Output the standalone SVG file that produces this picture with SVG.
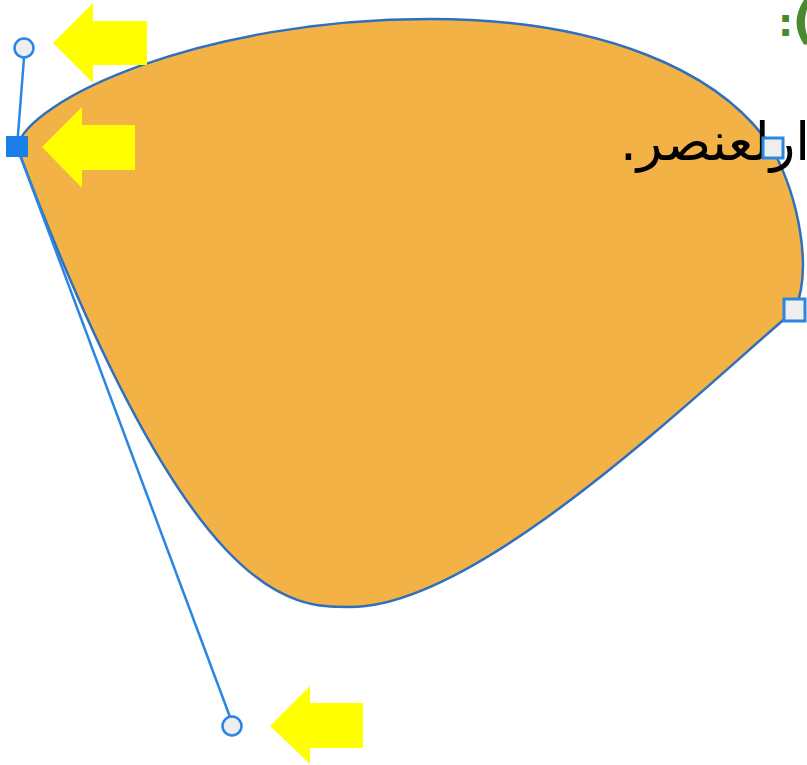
<svg xmlns="http://www.w3.org/2000/svg" width="807" height="765" viewBox="0 0 807 765">
<style>
.handle{fill:none;stroke:#2a86e0;stroke-width:2.5}
.knob{fill:#eeeeee;stroke:#2a86e0;stroke-width:2.5}
.node{fill:#eeeeee;stroke:#2a86e0;stroke-width:3}
.arrow{fill:#ffff00}
</style>
<rect width="807" height="765" fill="#ffffff"/>
<g id="shape">
<path d="M17,147 C28,100 200,19 430,19 C600,19 720,70 772,148 C800,200 812,270 795,310 C700,390 480,607 350,607 C290,607 190,607 17,147 Z" fill="#f3b246" stroke="#2e6fbf" stroke-width="2.5"/>
</g>
<g id="label">
<text x="810" y="160" direction="rtl" text-anchor="start" font-family="DejaVu Sans, sans-serif" font-size="53" fill="#000000">ارلعنصر.</text>
</g>
<g id="title">
<text x="778" y="36" font-family="DejaVu Sans, sans-serif" font-size="38" font-weight="bold" fill="#4a8a2e">:<tspan font-size="50" dx="-1" dy="2">(</tspan></text>
</g>
<g id="connectors">
<line class="handle" x1="24" y1="58" x2="17" y2="147"/>
<line class="handle" x1="17" y1="147" x2="230" y2="717"/>
</g>
<g id="handle-top"><circle class="knob" cx="24" cy="48" r="9.5"/></g>
<g id="handle-bottom"><circle class="knob" cx="232" cy="726" r="9.5"/></g>
<g id="anchor-selected"><rect x="6" y="136" width="22" height="21" fill="#1a7fe8"/></g>
<g id="anchor-topright"><rect class="node" x="763" y="138" width="20" height="20"/></g>
<g id="anchor-right"><rect class="node" x="784" y="299" width="21" height="22"/></g>
<g id="arrow1"><polygon class="arrow" points="53,43 93,3 93,21 147,21 147,65 93,65 93,83"/></g>
<g id="arrow2"><polygon class="arrow" points="42,147 82,107 82,125 135,125 135,170 82,170 82,188"/></g>
<g id="arrow3"><polygon class="arrow" points="270,726 310,686 310,703 363,703 363,748 310,748 310,764"/></g>
</svg>
